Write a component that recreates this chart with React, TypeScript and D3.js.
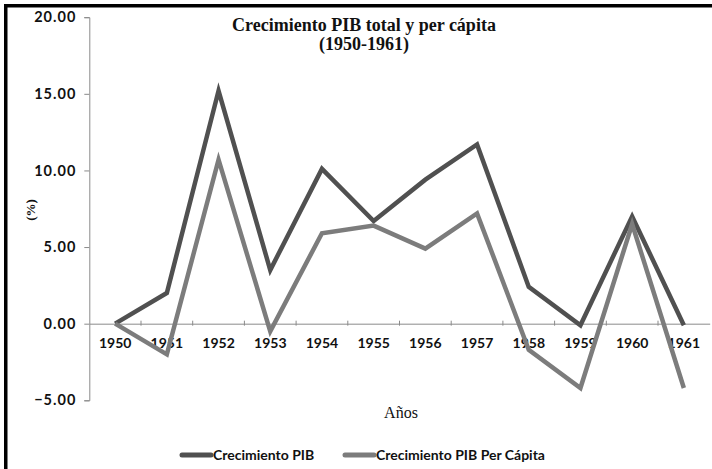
import React, { useEffect, useRef } from 'react';
import * as d3 from 'd3';

// data
const years = ['1950', '1951', '1952', '1953', '1954', '1955', '1956', '1957', '1958', '1959', '1960', '1961'];
const pibTotal = [0, 2.0, 15.2, 3.5, 10.1, 6.7, 9.4, 11.7, 2.4, -0.1, 7.0, -0.1];
const pibPerCapita = [0, -2.0, 10.7, -0.5, 5.9, 6.4, 4.9, 7.2, -1.7, -4.2, 6.5, -4.2];
const yTicks = [-5, 0, 5, 10, 15, 20];
const seriesNames = ['Crecimiento PIB', 'Crecimiento PIB Per Cápita'];
const seriesColors = ['#505050', '#7c7c7c'];

const W = 712;
const H = 469;
const sansFont = 'Lato, "Open Sans", sans-serif';
const serifFont = '"Liberation Serif", "Times New Roman", serif';

export default function App() {
  const svgRef = useRef<SVGSVGElement>(null);

  useEffect(() => {
    const svg = d3.select(svgRef.current);
    svg.selectAll('*').remove();

    const x = d3.scaleBand().domain(years).range([89.3, 709.7]).padding(0);
    const y = d3.scaleLinear().domain([-5, 20]).range([400.3, 17.2]);
    const cx = (yr: string) => (x(yr) as number) + x.bandwidth() / 2;

    svg.append('rect').attr('width', W).attr('height', H).attr('fill', '#fff');

    // frame (only left and top edges show in the picture)
    svg.append('rect').attr('x', 4).attr('y', 4).attr('width', 3.5).attr('height', H - 4).attr('fill', '#000');
    svg.append('rect').attr('x', 4).attr('y', 4).attr('width', W - 4).attr('height', 3.5).attr('fill', '#000');

    // y axis
    const yAxis = svg.append('g')
      .attr('transform', `translate(${x.range()[0]},0)`)
      .call(d3.axisLeft(y).tickValues(yTicks).tickSize(5).tickPadding(8).tickFormat(d3.format('.2f')));
    yAxis.select('.domain').attr('stroke', '#8a8a8a');
    yAxis.selectAll('.tick line').attr('stroke', '#8a8a8a');
    yAxis.selectAll('.tick text')
      .attr('fill', '#111')
      .style('font-family', sansFont)
      .style('font-weight', '700')
      .style('font-size', '14.5px')
      .style('letter-spacing', '1px');

    // x axis at zero
    const xAxis = svg.append('g')
      .attr('transform', `translate(0,${y(0)})`)
      .call(d3.axisBottom(x).tickSize(0).tickPadding(14));
    xAxis.select('.domain').attr('stroke', '#8a8a8a');
    xAxis.selectAll('.tick text')
      .attr('fill', '#111')
      .style('font-family', sansFont)
      .style('font-weight', '700')
      .style('font-size', '14px');
    // small crossing ticks on band boundaries
    xAxis.selectAll('.bnd')
      .data(years.slice(1))
      .enter()
      .append('line')
      .attr('x1', (d) => x(d) as number)
      .attr('x2', (d) => x(d) as number)
      .attr('y1', -3)
      .attr('y2', 2)
      .attr('stroke', '#8a8a8a');

    // lines
    const lineGen = d3.line<number>()
      .x((_, i) => cx(years[i]))
      .y((d) => y(d));

    [pibTotal, pibPerCapita].forEach((vals, i) => {
      svg.append('path')
        .datum(vals)
        .attr('d', lineGen)
        .attr('fill', 'none')
        .attr('stroke', seriesColors[i])
        .attr('stroke-width', 4.5)
        .attr('stroke-linejoin', 'miter');
    });

    // title
    const title = svg.append('text')
      .attr('text-anchor', 'middle')
      .style('font-family', serifFont)
      .style('font-weight', '700')
      .style('font-size', '18px')
      .attr('fill', '#111');
    title.append('tspan').attr('x', 364).attr('y', 31).text('Crecimiento PIB total y per cápita');
    title.append('tspan').attr('x', 364).attr('y', 50).text('(1950-1961)');

    // axis titles
    svg.append('text')
      .attr('transform', 'translate(35,210) rotate(-90)')
      .attr('text-anchor', 'middle')
      .style('font-family', serifFont)
      .style('font-weight', '700')
      .style('font-size', '13px')
      .attr('fill', '#111')
      .text('(%)');

    svg.append('text')
      .attr('x', 401)
      .attr('y', 418)
      .attr('text-anchor', 'middle')
      .style('font-family', serifFont)
      .style('font-size', '16px')
      .attr('fill', '#111')
      .text('Años');

    // legend
    const legendX = [180, 343];
    seriesNames.forEach((name, i) => {
      const g = svg.append('g').attr('transform', `translate(${legendX[i]},455)`);
      g.append('line')
        .attr('x1', 2).attr('x2', 31)
        .attr('stroke', seriesColors[i])
        .attr('stroke-width', 5)
        .attr('stroke-linecap', 'round');
      g.append('text')
        .attr('x', 33)
        .attr('y', 5)
        .style('font-family', sansFont)
        .style('font-weight', '700')
        .style('font-size', '14px')
        .attr('fill', '#111')
        .text(name);
    });
  }, []);

  return (
    <svg
      ref={svgRef}
      width={W}
      height={H}
      style={{ position: 'absolute', left: 0, top: 0, display: 'block' }}
    />
  );
}
